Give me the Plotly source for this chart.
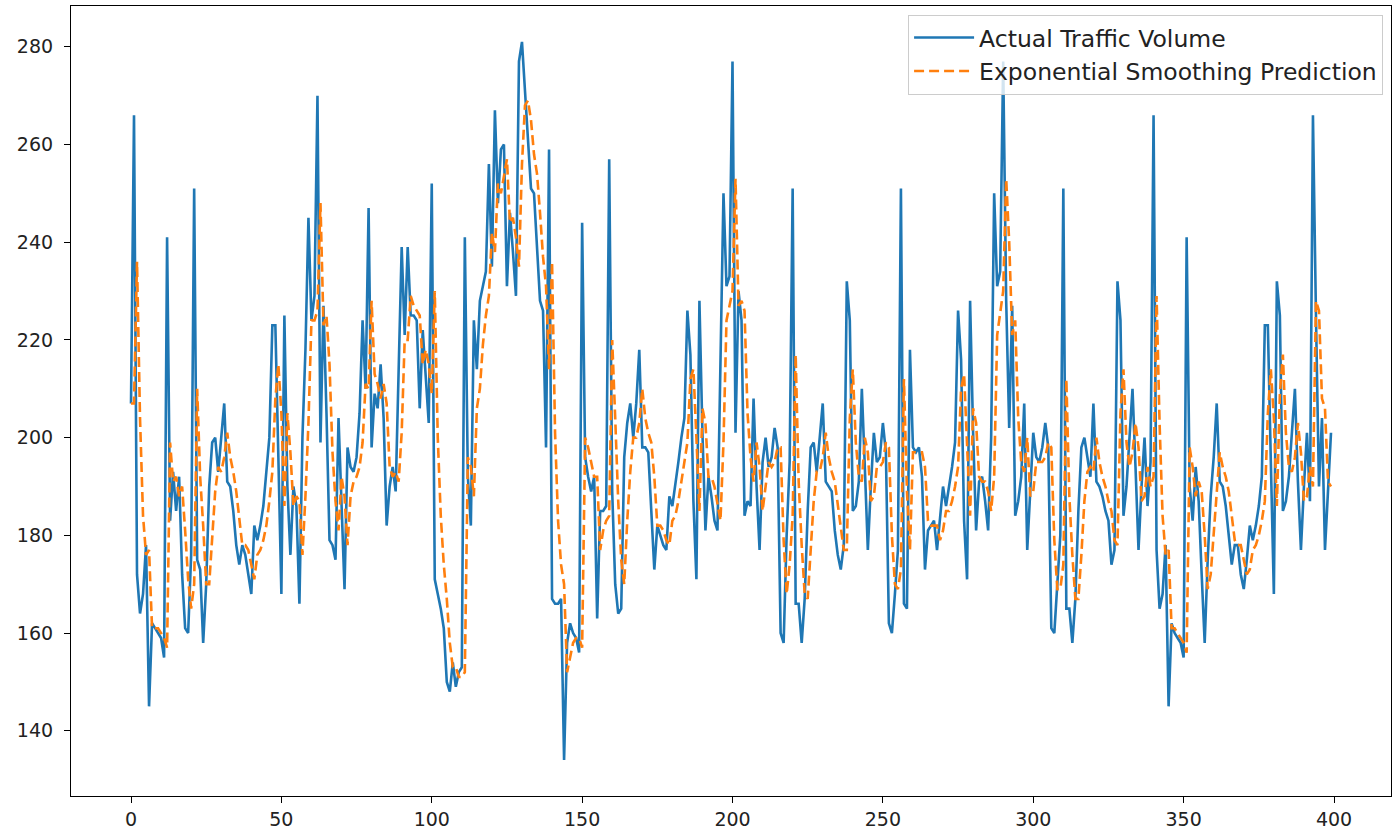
import plotly.graph_objects as go

# Observed hourly traffic volume, index 0..399
actual_volume = [
    207, 266, 172, 164, 168, 178, 145, 162, 161, 160, 159, 155, 241, 183, 193, 185, 192, 172, 161, 160,
    176, 251, 175, 173, 158, 170, 190, 199, 200, 193, 200, 207, 191, 190, 185, 178, 174, 178, 176, 172,
    168, 182, 179, 182, 186, 193, 200, 223, 223, 196, 168, 225, 190, 176, 190, 186, 166, 200, 218, 245,
    224, 229, 270, 199, 227, 205, 179, 178, 175, 204, 185, 169, 198, 194, 193, 196, 205, 224, 210, 247,
    198, 209, 206, 215, 204, 182, 190, 194, 189, 212, 239, 221, 239, 225, 225, 224, 206, 222, 212, 203,
    252, 171, 168, 165, 161, 150, 148, 154, 149, 152, 153, 241, 192, 182, 224, 214, 228, 231, 234, 256,
    235, 267, 248, 259, 260, 231, 246, 238, 229, 277, 281, 271, 262, 251, 250, 238, 228, 226, 198, 259,
    167, 166, 166, 167, 134, 158, 162, 160, 159, 156, 244, 196, 192, 189, 192, 163, 185, 185, 186, 257,
    189, 170, 164, 165, 196, 203, 207, 200, 207, 218, 198, 198, 197, 185, 173, 182, 180, 178, 177, 188,
    186, 190, 195, 200, 204, 226, 217, 187, 171, 228, 201, 181, 192, 188, 183, 181, 215, 250, 231, 233,
    277, 201, 230, 224, 184, 187, 186, 208, 190, 177, 195, 200, 194, 196, 202, 198, 160, 158, 180, 195,
    251, 166, 166, 158, 167, 185, 198, 199, 193, 200, 207, 191, 190, 189, 181, 176, 173, 178, 232, 224,
    185, 186, 191, 210, 194, 177, 190, 201, 195, 196, 203, 197, 162, 160, 168, 177, 251, 166, 165, 218,
    198, 197, 198, 192, 173, 181, 182, 183, 177, 183, 190, 186, 190, 194, 199, 226, 216, 183, 171, 228,
    201, 181, 191, 192, 187, 181, 200, 250, 231, 234, 277, 228, 202, 227, 184, 187, 192, 207, 177, 190,
    201, 196, 195, 198, 203, 198, 161, 160, 170, 180, 251, 165, 165, 158, 167, 185, 198, 200, 196, 192,
    207, 191, 190, 188, 185, 183, 174, 177, 232, 224, 184, 190, 200, 210, 194, 177, 190, 200, 186, 195,
    266, 177, 165, 168, 178, 145, 162, 160, 159, 158, 155, 241, 190, 183, 194, 187, 172, 158, 175, 188,
    196, 207, 191, 190, 186, 180, 174, 178, 178, 172, 169, 175, 182, 179, 182, 186, 192, 223, 223, 195,
    168, 232, 225, 185, 187, 192, 200, 210, 191, 177, 190, 201, 187, 266, 225, 190, 204, 177, 189, 201,
]

# One-step-ahead exponential smoothing fitted values, index 0..399
smoothed_prediction = [
    207, 207, 236, 204, 184, 176, 177, 161, 161, 161, 160, 159, 157, 199, 191, 192, 188, 190, 181, 171,
    165, 170, 210, 192, 182, 170, 170, 180, 189, 194, 193, 196, 201, 196, 193, 189, 183, 178, 178, 177,
    174, 171, 176, 177, 179, 182, 187, 193, 208, 215, 205, 186, 205, 197, 186, 188, 187, 176, 188, 203,
    224, 224, 226, 248, 223, 225, 215, 197, 187, 181, 192, 188, 178, 188, 191, 192, 194, 199, 211, 210,
    228, 213, 211, 208, 211, 207, 194, 192, 193, 191, 201, 220, 220, 229, 227, 226, 225, 215, 218, 215,
    209, 230, 200, 184, 174, 167, 158, 153, 153, 151, 151, 152, 196, 194, 188, 206, 210, 219, 225, 229,
    242, 238, 252, 250, 254, 257, 244, 245, 241, 235, 256, 268, 269, 265, 258, 254, 246, 237, 231, 214,
    236, 201, 183, 174, 170, 152, 155, 158, 159, 159, 157, 200, 198, 195, 192, 192, 177, 181, 183, 184,
    220, 204, 187, 175, 170, 183, 193, 200, 200, 203, 210, 204, 201, 199, 192, 182, 182, 181, 179, 178,
    183, 184, 187, 191, 195, 199, 212, 214, 200, 185, 206, 203, 192, 192, 190, 186, 183, 199, 224, 227,
    230, 253, 227, 228, 226, 205, 196, 191, 199, 194, 185, 190, 195, 194, 195, 198, 198, 179, 168, 174,
    184, 217, 191, 178, 168, 167, 176, 187, 193, 193, 196, 201, 196, 193, 191, 186, 181, 177, 177, 204,
    214, 199, 192, 191, 200, 197, 187, 188, 194, 194, 195, 199, 198, 180, 170, 169, 173, 212, 189, 177,
    197, 197, 197, 197, 194, 183, 182, 182, 182, 179, 181, 185, 185, 187, 190, 194, 210, 213, 198, 184,
    206, 203, 192, 191, 191, 189, 185, 192, 221, 226, 230, 253, 240, 221, 224, 204, 195, 193, 200, 188,
    189, 195, 195, 195, 196, 199, 198, 179, 169, 169, 174, 212, 188, 176, 167, 167, 176, 187, 193, 194,
    193, 200, 195, 192, 190, 187, 185, 179, 178, 205, 214, 199, 194, 197, 203, 198, 187, 188, 194, 190,
    192, 229, 203, 184, 176, 177, 161, 161, 160, 159, 158, 156, 198, 194, 188, 191, 189, 180, 169, 172,
    180, 188, 197, 194, 192, 189, 184, 179, 178, 178, 175, 172, 173, 177, 178, 180, 183, 187, 205, 214,
    204, 186, 209, 217, 201, 194, 193, 196, 203, 197, 187, 188, 194, 190, 228, 226, 208, 206, 191, 190,
]

x_index = list(range(len(actual_volume)))

x_ticks = [0, 50, 100, 150, 200, 250, 300, 350, 400]
y_ticks = [140, 160, 180, 200, 220, 240, 260, 280]

fig = go.Figure()
fig.add_trace(go.Scatter(
    x=x_index, y=actual_volume, mode="lines",
    name="Actual Traffic Volume", legendgroup="actual",
    line=dict(color="#1f77b4", width=2.6),
))
fig.add_trace(go.Scatter(
    x=x_index, y=smoothed_prediction, mode="lines",
    name="Exponential Smoothing Prediction", legendgroup="pred",
    line=dict(color="#ff7f0e", width=2.6, dash="10px,5px"),
))

axis_common = dict(
    showgrid=False, zeroline=False, showline=True, mirror=True,
    linecolor="black", linewidth=1.2,
    ticks="outside", ticklen=6, tickwidth=1.2, tickcolor="black",
    tickfont=dict(family="DejaVu Sans", size=19, color="#222"),
)

fig.update_xaxes(range=[-19.95, 418.95], tickvals=x_ticks, **axis_common)
fig.update_yaxes(range=[126.65, 288.35], tickvals=y_ticks,
                 ticklabelstandoff=7, **axis_common)

fig.update_layout(
    width=1400, height=838,
    margin=dict(l=71, r=9, t=6, b=42),
    plot_bgcolor="white", paper_bgcolor="white",
    font=dict(family="DejaVu Sans", size=19, color="#222"),
    legend=dict(
        x=0.994, y=0.989, xanchor="right", yanchor="top",
        bgcolor="rgba(255,255,255,0.8)", bordercolor="#cccccc", borderwidth=1,
        font=dict(family="DejaVu Sans", size=23.5, color="#222"),
        itemwidth=60, tracegroupgap=0,
    ),
    showlegend=True,
)

fig.write_html("out.html")
